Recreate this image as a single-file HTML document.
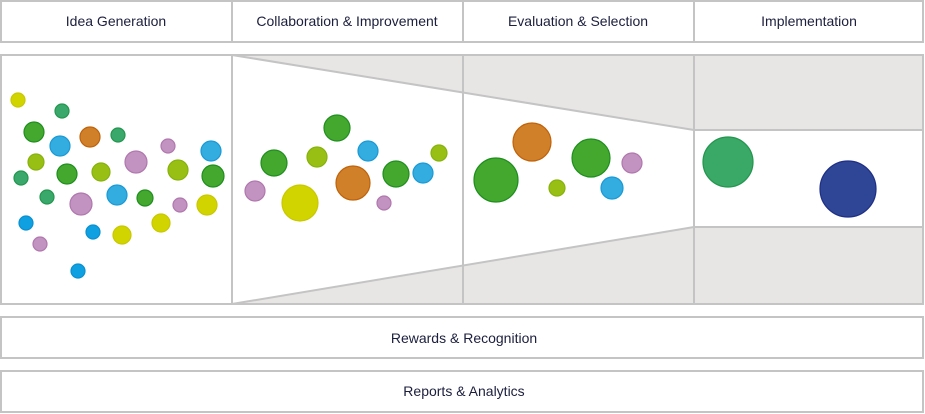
<!DOCTYPE html>
<html><head><meta charset="utf-8"><style>
html,body{margin:0;padding:0;background:#fff;width:925px;height:414px;overflow:hidden}
svg{display:block}
text{font-family:"Liberation Sans",sans-serif;font-size:14px;fill:#1b1f3d;text-anchor:middle}
</style></head><body>
<svg width="925" height="414" viewBox="0 0 925 414" xmlns="http://www.w3.org/2000/svg">
<g fill="#fff" stroke="#c4c4c4" stroke-width="2">
<rect x="1" y="1" width="231" height="41"/>
<rect x="232" y="1" width="231" height="41"/>
<rect x="463" y="1" width="231" height="41"/>
<rect x="694" y="1" width="229" height="41"/>
</g>
<text x="116" y="26">Idea Generation</text>
<text x="347" y="26">Collaboration &amp; Improvement</text>
<text x="578" y="26">Evaluation &amp; Selection</text>
<text x="809" y="26">Implementation</text>

<rect x="1" y="55" width="922" height="249" fill="#fff"/>
<polygon points="232,55 923,55 923,130 694,130" fill="#e8e5e5"/>
<polygon points="232,304 694,227 923,227 923,304" fill="#e8e5e5"/>
<g stroke="#c4c4c4" stroke-width="2" fill="none">
<rect x="1" y="55" width="922" height="249"/>
<line x1="232" y1="55" x2="232" y2="304"/>
<line x1="463" y1="55" x2="463" y2="304"/>
<line x1="694" y1="55" x2="694" y2="304"/>
<line x1="232" y1="55" x2="694" y2="130"/>
<line x1="232" y1="304" x2="694" y2="227"/>
<line x1="694" y1="130" x2="923" y2="130"/>
<line x1="694" y1="227" x2="923" y2="227"/>
</g>

<g stroke-width="1.2">
<!-- panel 1 -->
<circle cx="18" cy="100" r="7" fill="#d2d400" stroke="#c8c800"/>
<circle cx="62" cy="111" r="7" fill="#3aa86a" stroke="#22964e"/>
<circle cx="34" cy="132" r="10" fill="#45a82e" stroke="#1e8f1e"/>
<circle cx="60" cy="146" r="10" fill="#33ade0" stroke="#1a9ad6"/>
<circle cx="90" cy="137" r="10" fill="#d08028" stroke="#c0620a"/>
<circle cx="118" cy="135" r="7" fill="#3aa86a" stroke="#22964e"/>
<circle cx="168" cy="146" r="7" fill="#c292c0" stroke="#b078ae"/>
<circle cx="211" cy="151" r="10" fill="#33ade0" stroke="#1a9ad6"/>
<circle cx="36" cy="162" r="8" fill="#98c014" stroke="#86b20a"/>
<circle cx="21" cy="178" r="7" fill="#3aa86a" stroke="#22964e"/>
<circle cx="67" cy="174" r="10" fill="#45a82e" stroke="#1e8f1e"/>
<circle cx="101" cy="172" r="9" fill="#98c014" stroke="#86b20a"/>
<circle cx="136" cy="162" r="11" fill="#c292c0" stroke="#b078ae"/>
<circle cx="178" cy="170" r="10" fill="#98c014" stroke="#86b20a"/>
<circle cx="213" cy="176" r="11" fill="#45a82e" stroke="#1e8f1e"/>
<circle cx="47" cy="197" r="7" fill="#3aa86a" stroke="#22964e"/>
<circle cx="81" cy="204" r="11" fill="#c292c0" stroke="#b078ae"/>
<circle cx="117" cy="195" r="10" fill="#33ade0" stroke="#1a9ad6"/>
<circle cx="145" cy="198" r="8" fill="#45a82e" stroke="#1e8f1e"/>
<circle cx="180" cy="205" r="7" fill="#c292c0" stroke="#b078ae"/>
<circle cx="207" cy="205" r="10" fill="#d2d400" stroke="#c8c800"/>
<circle cx="26" cy="223" r="7" fill="#0ea0e0" stroke="#0a90d0"/>
<circle cx="40" cy="244" r="7" fill="#c292c0" stroke="#b078ae"/>
<circle cx="93" cy="232" r="7" fill="#0ea0e0" stroke="#0a90d0"/>
<circle cx="122" cy="235" r="9" fill="#d2d400" stroke="#c8c800"/>
<circle cx="161" cy="223" r="9" fill="#d2d400" stroke="#c8c800"/>
<circle cx="78" cy="271" r="7" fill="#0ea0e0" stroke="#0a90d0"/>
<!-- panel 2 -->
<circle cx="274" cy="163" r="13" fill="#45a82e" stroke="#1e8f1e"/>
<circle cx="317" cy="157" r="10" fill="#98c014" stroke="#86b20a"/>
<circle cx="337" cy="128" r="13" fill="#45a82e" stroke="#1e8f1e"/>
<circle cx="255" cy="191" r="10" fill="#c292c0" stroke="#b078ae"/>
<circle cx="300" cy="203" r="18" fill="#d2d400" stroke="#c8c800"/>
<circle cx="353" cy="183" r="17" fill="#d08028" stroke="#c0620a"/>
<circle cx="368" cy="151" r="10" fill="#33ade0" stroke="#1a9ad6"/>
<circle cx="384" cy="203" r="7" fill="#c292c0" stroke="#b078ae"/>
<circle cx="396" cy="174" r="13" fill="#45a82e" stroke="#1e8f1e"/>
<circle cx="423" cy="173" r="10" fill="#33ade0" stroke="#1a9ad6"/>
<circle cx="439" cy="153" r="8" fill="#98c014" stroke="#86b20a"/>
<!-- panel 3 -->
<circle cx="496" cy="180" r="22" fill="#45a82e" stroke="#1e8f1e"/>
<circle cx="532" cy="142" r="19" fill="#d08028" stroke="#c0620a"/>
<circle cx="557" cy="188" r="8" fill="#98c014" stroke="#86b20a"/>
<circle cx="591" cy="158" r="19" fill="#45a82e" stroke="#1e8f1e"/>
<circle cx="612" cy="188" r="11" fill="#33ade0" stroke="#1a9ad6"/>
<circle cx="632" cy="163" r="10" fill="#c292c0" stroke="#b078ae"/>
<!-- panel 4 -->
<circle cx="728" cy="162" r="25" fill="#3aa866" stroke="#22964e"/>
<circle cx="848" cy="189" r="28" fill="#2f4596" stroke="#1e2f85"/>
</g>

<g fill="#fff" stroke="#c4c4c4" stroke-width="2">
<rect x="1" y="317" width="922" height="41"/>
<rect x="1" y="371" width="922" height="41"/>
</g>
<text x="464" y="343">Rewards &amp; Recognition</text>
<text x="464" y="396">Reports &amp; Analytics</text>
</svg>
</body></html>
